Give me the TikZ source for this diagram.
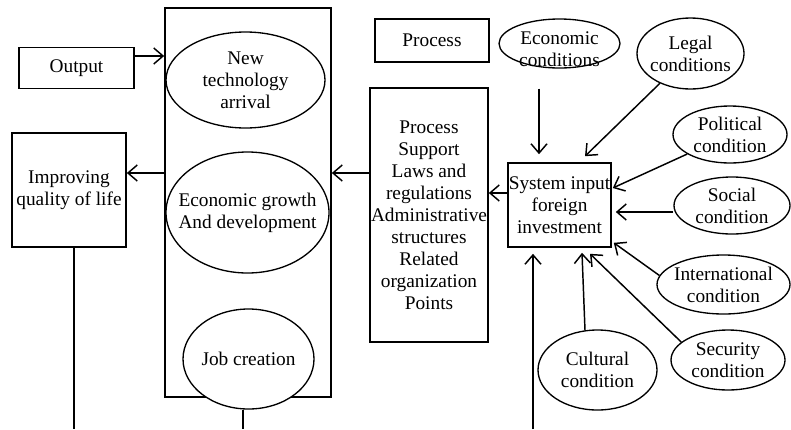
\documentclass[tikz,border=0pt]{standalone}
\usepackage{fontspec}
\setmainfont{Liberation Serif}
\usepackage{tikz}
\usetikzlibrary{arrows.meta,shapes.geometric,calc}
\newcommand{\pxu}{0.75pt}

\begin{document}
\begin{tikzpicture}[x=0.75pt, y=-0.75pt,
  font=\fontsize{14.5}{16.5}\selectfont,
  box/.style={rectangle, draw, line width=1.2pt, fill=white, inner sep=0pt,
    align=center},
  cond/.style={ellipse, draw, line width=1pt, fill=white, inner sep=0pt},
  every label/.style={align=center, inner sep=0pt},
  arr/.style={-{Straight Barb[length=7pt,width=12pt]}, line width=1.1pt},
  plain/.style={line width=1.1pt},
]
\useasboundingbox (0,0) rectangle (791,429);

% left part: output side
\node[box, minimum width=115*\pxu, minimum height=41*\pxu] (output) at (76.5,68) {Output};
\node[box, minimum width=166*\pxu, minimum height=389*\pxu] (main) at (248,202.5) {};
\node[cond, minimum width=159*\pxu, minimum height=96*\pxu,
  label={center:{New\\technology\\arrival}}] (newtech) at (245.5,80) {};
\node[cond, minimum width=163*\pxu, minimum height=121*\pxu,
  label={center:{Economic growth\\And development}}] (growth) at (247.5,212.5) {};
\node[cond, minimum width=131*\pxu, minimum height=100*\pxu,
  label={center:{Job creation}}] (jobs) at (248.5,359) {};
\node[box, minimum width=114*\pxu, minimum height=114*\pxu] (quality) at (69,190)
  {Improving\\quality of life};

% middle part: process
\node[box, minimum width=114*\pxu, minimum height=43*\pxu] (proc) at (432,40.5) {Process};
\node[box, minimum width=118*\pxu, minimum height=254*\pxu] (support) at (429,215)
  {Process\\Support\\Laws and\\regulations\\Administrative\\structures\\Related\\organization\\Points};

% right part: input and conditions
\node[box, minimum width=103*\pxu, minimum height=84*\pxu] (sys) at (559.5,205)
  {System input\\foreign\\investment};
\node[cond, minimum width=121*\pxu, minimum height=49*\pxu,
  label={[yshift=-4pt]center:{Economic\\conditions}}] (econ) at (559.5,43.5) {};
\node[cond, minimum width=107*\pxu, minimum height=71*\pxu,
  label={center:{Legal\\conditions}}] (legal) at (690.5,53.5) {};
\node[cond, minimum width=114*\pxu, minimum height=57*\pxu,
  label={center:{Political\\condition}}] (political) at (730,134.5) {};
\node[cond, minimum width=116*\pxu, minimum height=57*\pxu,
  label={center:{Social\\condition}}] (social) at (732,205.5) {};
\node[cond, minimum width=133*\pxu, minimum height=59*\pxu,
  label={center:{International\\condition}}] (intl) at (723.5,284.5) {};
\node[cond, minimum width=114*\pxu, minimum height=60*\pxu,
  label={center:{Security\\condition}}] (security) at (728,360) {};
\node[cond, minimum width=119*\pxu, minimum height=80*\pxu,
  label={center:{Cultural\\condition}}] (cultural) at (597.5,370) {};

% helper rows and bottom ends
\coordinate (outA) at ($(output.east)+(0,-12)$);
\coordinate (rowA) at (0,173);
\coordinate (rowB) at (0,193);
\coordinate (rowC) at (0,212);
\coordinate (qbot) at (74,429);
\coordinate (jbot) at (243,429);
\coordinate (sysin) at (533,429);

% ARROWS
\draw[arr] (outA) -- (outA -| main.west);
\draw[arr] (main.west |- rowA) -- (quality.east |- rowA);
\draw[arr] (support.west |- rowA) -- (main.east |- rowA);
\draw[arr] (sys.west |- rowB) -- (support.east |- rowB);
\draw[arr] ($(econ.south)+(-20.5,20)$) -- ($(sys.north)+(-20.5,-8)$);
\draw[arr] (legal) -- ($(sys.north)+(25.5,-6)$);
\draw[arr] (political) -- ($(sys.east)+(1,-17)$);
\draw[arr] (social.west |- rowC) -- ($(sys.east |- rowC)+(4,0)$);
\draw[arr] (intl.172) -- ($(sys.south east)+(2,-5)$);
\draw[arr] (security.159) -- ($(sys.south)+(30.5,6)$);
\draw[arr] ($(cultural.north)+(-12.5,1)$) -- ($(sys.south)+(22.5,5)$);
\draw[arr] (sysin) -- (sysin |- {$(sys.south)+(0,6)$});
\draw[plain] (quality.south -| qbot) -- (qbot);
\draw[plain] (jobs.south -| jbot) -- (jbot);
\end{tikzpicture}
\end{document}
